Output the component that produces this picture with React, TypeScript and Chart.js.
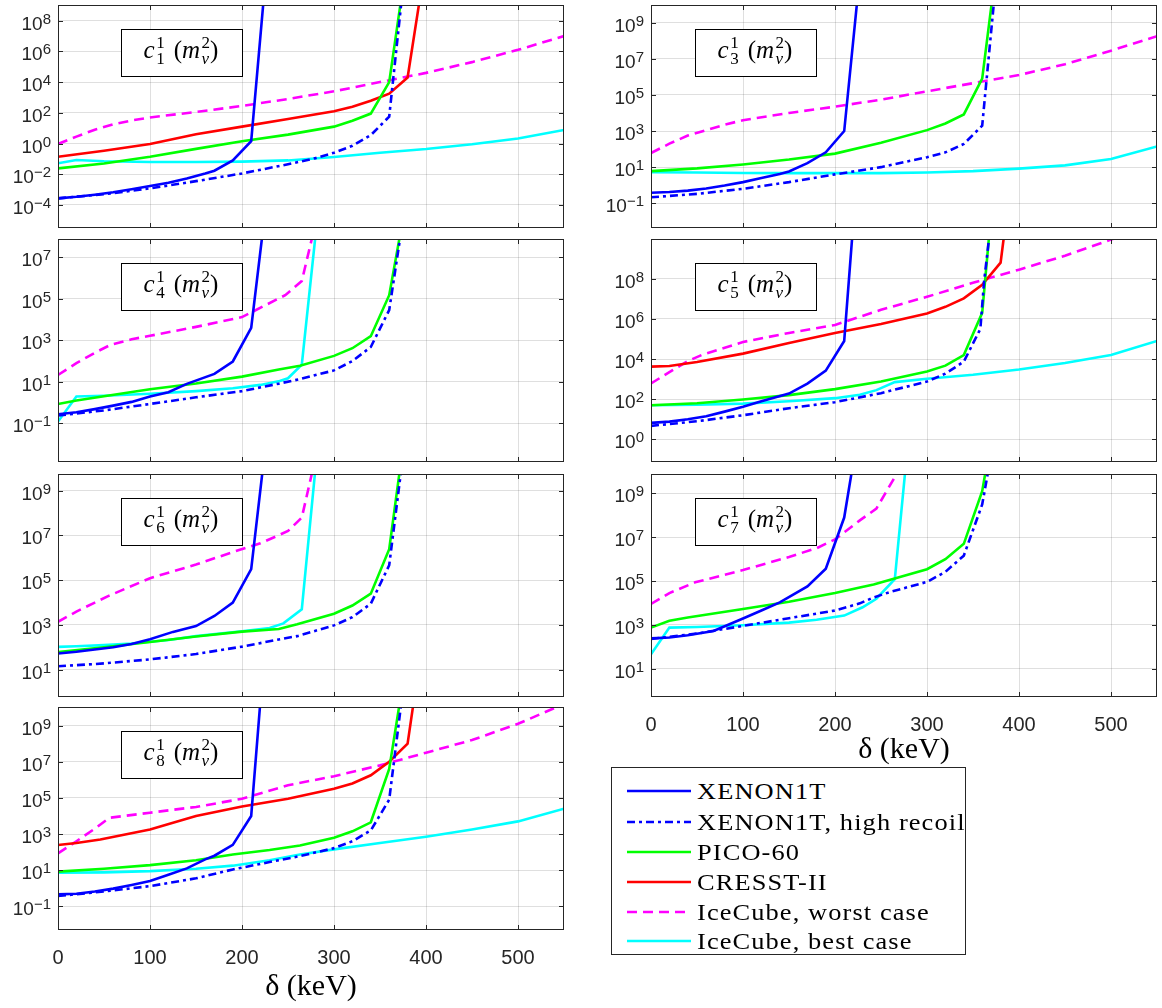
import React, { useEffect, useRef } from 'react';
import { Chart, registerables } from 'chart.js';

Chart.register(...registerables);

// ---------------- data: pairs of [delta (keV), log10 of the bound] ----------------
const X_TICKS = [0, 100, 200, 300, 400, 500];

const c1Xenon = [[0,-3.57],[20,-3.47],[40,-3.33],[60,-3.17],[80,-2.98],[100,-2.77],[120,-2.55],[140,-2.28],[160,-1.95],[170,-1.77],[190,-1.1],[210,0.15],[230,13.8]];
const c1High = [[0,-3.57],[50,-3.3],[100,-2.92],[150,-2.45],[200,-1.95],[250,-1.35],[280,-0.95],[300,-0.6],[320,-0.15],[340,0.55],[360,1.75],[380,13]];
const c1Pico = [[0,-1.62],[50,-1.3],[100,-0.86],[150,-0.35],[200,0.15],[250,0.58],[300,1.1],[320,1.48],[340,1.95],[360,4.0],[380,12.3]];
const c1Cresst = [[0,-0.86],[50,-0.47],[100,-0.03],[150,0.6],[200,1.1],[250,1.6],[300,2.1],[320,2.4],[340,2.78],[360,3.25],[380,4.3],[400,12]];
const c1Worst = [[0,-0.03],[20,0.45],[40,0.9],[60,1.25],[80,1.5],[100,1.7],[150,2.05],[200,2.45],[250,2.9],[300,3.4],[350,4.0],[400,4.6],[450,5.3],[500,6.1],[550,7.0]];
const c1Best = [[0,-1.29],[20,-1.07],[50,-1.15],[100,-1.2],[150,-1.2],[200,-1.18],[250,-1.1],[300,-0.88],[350,-0.6],[400,-0.36],[450,-0.05],[500,0.33],[550,0.88]];

const c3Xenon = [[0,-0.42],[20,-0.38],[40,-0.3],[60,-0.18],[80,-0.02],[100,0.17],[120,0.4],[140,0.62],[150,0.76],[170,1.22],[190,1.82],[210,3.0],[230,13.2]];
const c3High = [[0,-0.67],[50,-0.48],[100,-0.2],[150,0.17],[200,0.6],[250,1.0],[300,1.55],[320,1.82],[340,2.28],[360,3.3],[380,14]];
const c3Pico = [[0,0.78],[50,0.93],[100,1.15],[150,1.42],[200,1.75],[250,2.35],[300,3.05],[320,3.42],[340,3.92],[360,5.9],[380,14]];
const c3Worst = [[0,1.78],[20,2.3],[40,2.75],[60,3.05],[80,3.35],[100,3.6],[150,4.0],[200,4.35],[250,4.74],[300,5.2],[350,5.65],[400,6.1],[450,6.7],[500,7.45],[550,8.25]];
const c3Best = [[0,0.72],[50,0.7],[100,0.68],[150,0.67],[200,0.67],[250,0.67],[300,0.7],[350,0.78],[400,0.92],[450,1.1],[500,1.45],[550,2.15]];

const c4Xenon = [[0,-0.57],[20,-0.47],[40,-0.32],[60,-0.15],[80,0.03],[100,0.29],[120,0.5],[140,0.9],[170,1.38],[190,1.98],[210,3.6],[230,11]];
const c4High = [[0,-0.63],[50,-0.38],[100,-0.07],[150,0.25],[200,0.55],[240,0.91],[263,1.13],[300,1.55],[320,2.0],[340,2.68],[360,4.46],[380,10.3]];
const c4Pico = [[0,-0.07],[20,0.1],[50,0.3],[100,0.64],[150,0.92],[200,1.25],[240,1.59],[263,1.77],[300,2.25],[320,2.62],[340,3.2],[360,5.18],[380,10.1]];
const c4Worst = [[0,1.33],[20,1.9],[40,2.4],[57,2.78],[80,3.05],[100,3.22],[150,3.65],[200,4.12],[247,5.18],[265,5.86],[285,9.6]];
const c4Best = [[0,-0.92],[20,0.29],[50,0.33],[100,0.42],[150,0.55],[190,0.69],[220,0.85],[241,1.04],[250,1.17],[265,1.83],[285,10.2]];

const c5Xenon = [[0,0.82],[20,0.88],[40,1.0],[60,1.15],[80,1.38],[100,1.62],[120,1.9],[150,2.28],[170,2.78],[190,3.42],[210,4.9],[230,16.8]];
const c5High = [[0,0.67],[50,0.9],[100,1.2],[150,1.55],[200,1.85],[250,2.3],[300,2.88],[320,3.27],[340,3.87],[358,5.5],[362,7.85],[375,13]];
const c5Pico = [[0,1.7],[50,1.8],[100,1.98],[150,2.2],[200,2.5],[250,2.88],[300,3.38],[320,3.67],[340,4.2],[360,6.3],[380,16.5]];
const c5Cresst = [[0,3.62],[20,3.65],[50,3.85],[100,4.27],[150,4.8],[200,5.3],[250,5.75],[300,6.27],[320,6.6],[340,7.02],[360,7.7],[380,8.8],[400,16]];
const c5Worst = [[0,2.78],[20,3.35],[40,3.9],[55,4.2],[100,4.85],[150,5.3],[200,5.7],[250,6.45],[300,7.1],[350,7.8],[400,8.45],[450,9.15],[500,9.95],[550,10.7]];
const c5Best = [[0,1.7],[50,1.72],[100,1.78],[150,1.9],[200,2.05],[227,2.22],[245,2.45],[265,2.85],[300,3.02],[350,3.22],[400,3.48],[450,3.8],[500,4.2],[550,4.9]];

const c6Xenon = [[0,1.72],[20,1.8],[40,1.9],[60,2.0],[80,2.15],[100,2.36],[125,2.69],[150,2.95],[170,3.4],[190,4.0],[210,5.5],[230,12.6]];
const c6High = [[0,1.15],[50,1.28],[100,1.46],[150,1.7],[200,2.03],[240,2.35],[260,2.5],[300,2.98],[320,3.35],[340,3.95],[360,5.67],[380,12.2]];
const c6Pico = [[0,1.79],[50,2.0],[100,2.24],[150,2.48],[200,2.7],[240,2.82],[260,3.03],[300,3.5],[320,3.87],[340,4.4],[360,6.39],[380,12.5]];
const c6Worst = [[0,3.14],[20,3.6],[40,4.0],[55,4.3],[100,5.09],[150,5.7],[190,6.26],[220,6.65],[250,7.2],[265,7.8],[285,11.4]];
const c6Best = [[0,2.02],[20,2.05],[50,2.1],[80,2.17],[120,2.33],[150,2.5],[200,2.72],[230,2.86],[245,3.07],[265,3.7],[285,12.2]];

const c7Xenon = [[0,2.38],[20,2.42],[40,2.52],[68,2.72],[100,3.29],[120,3.65],[140,4.02],[170,4.75],[190,5.56],[210,7.9],[230,13]];
const c7High = [[0,2.35],[50,2.6],[100,2.95],[150,3.3],[200,3.65],[227,3.98],[242,4.25],[260,4.5],[300,4.96],[320,5.42],[340,6.16],[360,8.5],[375,12]];
const c7Pico = [[0,2.87],[20,3.18],[40,3.33],[100,3.72],[150,4.05],[200,4.45],[227,4.7],[242,4.84],[300,5.54],[320,6.0],[340,6.7],[360,9.1],[380,14]];
const c7Worst = [[0,3.95],[20,4.45],[48,4.94],[100,5.5],[150,6.1],[180,6.5],[200,6.9],[227,7.77],[245,8.31],[265,9.75],[280,10.9]];
const c7Best = [[0,1.65],[20,2.87],[50,2.9],[100,2.98],[150,3.1],[180,3.23],[210,3.42],[230,3.8],[245,4.19],[265,5.08],[285,13.8]];

const c8Xenon = [[0,-0.34],[20,-0.3],[40,-0.18],[60,-0.02],[80,0.18],[100,0.4],[120,0.75],[140,1.1],[160,1.6],[170,1.8],[190,2.4],[210,4.0],[230,16.7]];
const c8High = [[0,-0.43],[50,-0.18],[100,0.12],[150,0.55],[190,1.04],[230,1.45],[263,1.78],[300,2.22],[320,2.6],[340,3.2],[360,4.9],[375,11]];
const c8Pico = [[0,0.92],[50,1.08],[100,1.28],[150,1.55],[190,1.87],[230,2.12],[263,2.37],[300,2.8],[320,3.15],[340,3.65],[360,6.6],[380,13]];
const c8Cresst = [[0,2.39],[20,2.5],[46,2.7],[100,3.25],[150,4.0],[200,4.52],[250,4.95],[300,5.5],[320,5.8],[340,6.25],[360,7.0],[380,8.0],[400,15]];
const c8Worst = [[0,1.93],[20,2.6],[40,3.3],[56,3.9],[100,4.18],[150,4.5],[200,4.95],[250,5.7],[300,6.2],[350,6.8],[400,7.5],[450,8.2],[500,9.1],[550,10.2]];
const c8Best = [[0,0.86],[50,0.88],[100,0.95],[150,1.08],[190,1.25],[230,1.55],[263,1.87],[300,2.15],[350,2.5],[400,2.85],[450,3.25],[500,3.7],[550,4.4]];

// y ranges: [log10 min, log10 max]
const c1Range = [-5.5, 9.02];
const c3Range = [-2.37, 9.98];
const c4Range = [-2.87, 7.89];
const c5Range = [-1.13, 9.98];
const c6Range = [-0.21, 9.75];
const c7Range = [-0.3, 9.89];
const c8Range = [-2.31, 10.03];

const LEGEND_LABELS = ['XENON1T', 'XENON1T, high recoil', 'PICO-60', 'CRESST-II', 'IceCube, worst case', 'IceCube, best case'];

// ---------------- styles ----------------
const SERIES_STYLE = [
  { color: '#0000ff', dash: [] as number[] },
  { color: '#0000ff', dash: [8, 4, 3, 4] },
  { color: '#00ff00', dash: [] as number[] },
  { color: '#ff0000', dash: [] as number[] },
  { color: '#ff00ff', dash: [10, 6] },
  { color: '#00ffff', dash: [] as number[] },
];

const COL_X = [58, 651];
const ROWS = [[5, 228], [239, 462], [474, 697], [707, 930]];
const AREA_W = 506;

type PanelDef = {
  idx: string; col: number; row: number; range: number[]; oddLabels: boolean; xLabels: boolean;
  series: (number[][] | null)[];
};

const PANELS: PanelDef[] = [
  { idx: '1', col: 0, row: 0, range: c1Range, oddLabels: false, xLabels: false, series: [c1Xenon, c1High, c1Pico, c1Cresst, c1Worst, c1Best] },
  { idx: '3', col: 1, row: 0, range: c3Range, oddLabels: true, xLabels: false, series: [c3Xenon, c3High, c3Pico, null, c3Worst, c3Best] },
  { idx: '4', col: 0, row: 1, range: c4Range, oddLabels: true, xLabels: false, series: [c4Xenon, c4High, c4Pico, null, c4Worst, c4Best] },
  { idx: '5', col: 1, row: 1, range: c5Range, oddLabels: false, xLabels: false, series: [c5Xenon, c5High, c5Pico, c5Cresst, c5Worst, c5Best] },
  { idx: '6', col: 0, row: 2, range: c6Range, oddLabels: true, xLabels: false, series: [c6Xenon, c6High, c6Pico, null, c6Worst, c6Best] },
  { idx: '7', col: 1, row: 2, range: c7Range, oddLabels: true, xLabels: true, series: [c7Xenon, c7High, c7Pico, null, c7Worst, c7Best] },
  { idx: '8', col: 0, row: 3, range: c8Range, oddLabels: true, xLabels: true, series: [c8Xenon, c8High, c8Pico, c8Cresst, c8Worst, c8Best] },
];

const AXIS_COLOR = '#262626';
const SANS = '"Liberation Sans", Arial, Helvetica, sans-serif';
const SERIF = '"Liberation Serif", "DejaVu Serif", serif';

function buildYTicks(lo: number, hi: number, odd: boolean) {
  const min = Math.pow(10, lo), max = Math.pow(10, hi);
  const out: any[] = [];
  for (let e = Math.floor(lo); e <= Math.ceil(hi); e++) {
    for (let m = 1; m <= 9; m++) {
      const v = m * Math.pow(10, e);
      if (v < min * 0.9999 || v > max * 1.0001) continue;
      const lab = m === 1 && Math.abs(e % 2) === (odd ? 1 : 0);
      out.push({ value: v, lab, exp: e });
    }
  }
  return out;
}

function drawPanelLabel(ctx: CanvasRenderingContext2D, cx: number, baseline: number, idx: string) {
  const big = 25, small = 17;
  const F = (it: boolean, s: number) => `${it ? 'italic ' : ''}${s}px ${SERIF}`;
  type Piece = { t: string; f: string; dy: number };
  const groups: { items: Piece[]; gap?: number }[] = [
    { items: [{ t: 'c', f: F(true, big), dy: 0 }] },
    { items: [{ t: '1', f: F(false, small), dy: -10 }, { t: idx, f: F(false, small), dy: 6 }] },
    { items: [], gap: 9 },
    { items: [{ t: '(', f: F(false, big), dy: 0 }] },
    { items: [{ t: 'm', f: F(true, big), dy: 0 }] },
    { items: [{ t: '2', f: F(false, small), dy: -10 }, { t: 'v', f: F(true, small), dy: 6 }] },
    { items: [{ t: ')', f: F(false, big), dy: 0 }] },
  ];
  const widths = groups.map((g) => {
    if (g.gap) return g.gap;
    let w = 0;
    for (const it of g.items) { ctx.font = it.f; w = Math.max(w, ctx.measureText(it.t).width); }
    return w + (g.items.length > 1 ? 1.5 : 0);
  });
  const total = widths.reduce((a, b) => a + b, 0);
  let x = cx - total / 2;
  ctx.fillStyle = '#000';
  ctx.textBaseline = 'alphabetic';
  ctx.textAlign = 'left';
  groups.forEach((g, i) => {
    for (const it of g.items) { ctx.font = it.f; ctx.fillText(it.t, x + (g.items.length > 1 ? 1.5 : 0), baseline + it.dy); }
    x += widths[i];
  });
}

const decoPlugin = {
  id: 'deco',
  beforeDatasetsDraw(chart: any) {
    const { ctx, chartArea: a } = chart;
    const ys = chart.scales.y;
    ctx.save();
    ctx.strokeStyle = 'rgba(0,0,0,0.26)';
    ctx.lineWidth = 1;
    ctx.setLineDash([1, 2]);
    for (const t of ys.ticks) {
      if (t.lab) continue;
      const y = Math.round(ys.getPixelForValue(t.value)) + 0.5;
      ctx.beginPath();
      ctx.moveTo(a.left, y);
      ctx.lineTo(a.right, y);
      ctx.stroke();
    }
    ctx.restore();
  },
  afterDatasetsDraw(chart: any, _args: any, opts: any) {
    const { ctx, chartArea: a } = chart;
    const ys = chart.scales.y, xs = chart.scales.x;
    ctx.save();
    ctx.strokeStyle = AXIS_COLOR;
    ctx.lineWidth = 1;
    ctx.setLineDash([]);
    ctx.beginPath();
    for (const t of ys.ticks) {
      const y = Math.round(ys.getPixelForValue(t.value)) + 0.5;
      const len = t.lab ? 5 : 3;
      ctx.moveTo(a.left, y); ctx.lineTo(a.left + len, y);
      ctx.moveTo(a.right, y); ctx.lineTo(a.right - len, y);
    }
    for (const t of xs.ticks) {
      const x = Math.round(xs.getPixelForValue(t.value)) + 0.5;
      ctx.moveTo(x, a.top); ctx.lineTo(x, a.top + 5);
      ctx.moveTo(x, a.bottom); ctx.lineTo(x, a.bottom - 5);
    }
    ctx.stroke();
    ctx.strokeRect(a.left + 0.5, a.top + 0.5, a.right - a.left - 1, a.bottom - a.top - 1);

    // y tick labels: 10 with raised exponent
    ctx.fillStyle = AXIS_COLOR;
    ctx.textBaseline = 'alphabetic';
    ctx.textAlign = 'left';
    for (const t of ys.ticks) {
      if (!t.lab) continue;
      const y = ys.getPixelForValue(t.value);
      const ex = String(t.exp).replace('-', '\u2212');
      ctx.font = `15px ${SANS}`;
      const we = ctx.measureText(ex).width;
      ctx.font = `19px ${SANS}`;
      const wb = ctx.measureText('10').width;
      const right = a.left - 7;
      ctx.fillText('10', right - we - wb, y + 9);
      ctx.font = `15px ${SANS}`;
      ctx.fillText(ex, right - we, y + 3);
    }

    // label box
    const bx = a.left + opts.boxX, by = a.top + 24, bw = 122, bh = 48;
    ctx.fillStyle = '#ffffff';
    ctx.fillRect(bx, by, bw, bh);
    ctx.strokeStyle = '#000';
    ctx.strokeRect(bx + 0.5, by + 0.5, bw - 1, bh - 1);
    drawPanelLabel(ctx, bx + bw / 2 - 1, by + 29, opts.idx);
    ctx.restore();
  },
};

function Panel({ p }: { p: PanelDef }) {
  const ref = useRef<HTMLCanvasElement>(null);
  const left = COL_X[p.col];
  const [top, bottom] = ROWS[p.row];
  const xh = p.xLabels ? (p.row === 3 ? 75 : 71) : 4;
  const W = 58 + AREA_W + 5;
  const H = 5 + (bottom - top) + xh;
  useEffect(() => {
    const yTicks = buildYTicks(p.range[0], p.range[1], p.oddLabels);
    const datasets: any[] = [];
    p.series.forEach((s, i) => {
      if (!s) return;
      const st = SERIES_STYLE[i];
      datasets.push({
        data: s.map(([d, l]) => ({ x: d, y: Math.pow(10, l) })),
        borderColor: st.color,
        backgroundColor: st.color,
        borderWidth: 2.6,
        borderDash: st.dash,
        pointRadius: 0,
        tension: 0,
        fill: false,
        clip: 0,
      });
    });
    const chart = new Chart(ref.current as HTMLCanvasElement, {
      type: 'line',
      data: { datasets },
      plugins: [decoPlugin as any],
      options: {
        responsive: false,
        animation: false,
        events: [],
        layout: { padding: { left: 0, top: 5, right: 5, bottom: 0 } },
        plugins: {
          legend: { display: false },
          tooltip: { enabled: false },
          deco: { boxX: p.col === 0 ? 63 : 44, idx: p.idx },
        } as any,
        scales: {
          x: {
            type: 'linear',
            min: 0,
            max: 550,
            afterBuildTicks: (s: any) => { s.ticks = X_TICKS.map((v) => ({ value: v })); },
            afterFit: (s: any) => { s.height = xh; s.paddingLeft = 0; s.paddingRight = 0; },
            grid: { color: 'rgba(38,38,38,0.15)', lineWidth: 1, drawTicks: false },
            border: { display: false },
            ticks: {
              display: p.xLabels,
              padding: 16,
              maxRotation: 0,
              autoSkip: false,
              color: AXIS_COLOR,
              font: { family: SANS, size: 20 },
            },
            title: {
              display: p.xLabels,
              text: '\u03B4 (keV)',
              color: '#000',
              font: { family: SERIF, size: 30 },
              padding: { top: 0, bottom: 0 },
            },
          },
          y: {
            type: 'logarithmic',
            min: Math.pow(10, p.range[0]),
            max: Math.pow(10, p.range[1]),
            afterBuildTicks: (s: any) => { s.ticks = yTicks.map((t) => ({ ...t })); },
            afterFit: (s: any) => { s.width = 58; s.paddingTop = 0; s.paddingBottom = 0; },
            grid: { color: 'rgba(38,38,38,0.15)', lineWidth: 1, drawTicks: false },
            border: { display: false },
            ticks: {
              display: false,
              autoSkip: false,
              callback: (_v: any, i: number, ticks: any[]) => {
                const t = ticks[i];
                return t && t.lab ? '10^' + t.exp : null;
              },
            },
          },
        } as any,
      },
    });
    return () => chart.destroy();
  }, []);
  return (
    <canvas
      ref={ref}
      width={W}
      height={H}
      style={{ position: 'absolute', left: left - 58, top: top - 5, width: W, height: H }}
    />
  );
}

function LegendBox() {
  const rowTop = [23, 54, 84, 114, 144, 173];
  return (
    <div
      style={{
        position: 'absolute', left: 611, top: 767, width: 355, height: 188,
        border: '1px solid #262626', background: '#fff', boxSizing: 'border-box',
      }}
    >
      {LEGEND_LABELS.map((lab, i) => {
        const st = SERIES_STYLE[i];
        return (
          <div key={lab} style={{ position: 'absolute', left: 0, top: rowTop[i] - 15, height: 30, width: 350 }}>
            <svg width={70} height={30} style={{ position: 'absolute', left: 14, top: 0 }}>
              <line x1={1} y1={15} x2={65} y2={15} stroke={st.color} strokeWidth={2.6}
                strokeDasharray={st.dash.length ? st.dash.join(',') : undefined} />
            </svg>
            <span
              style={{
                position: 'absolute', left: 85, top: 0, lineHeight: '30px', whiteSpace: 'nowrap',
                fontFamily: SERIF, fontSize: 24, color: '#000', letterSpacing: '1px',
                transform: 'scaleX(1.1)', transformOrigin: 'left center', display: 'inline-block',
              }}
            >
              {lab}
            </span>
          </div>
        );
      })}
    </div>
  );
}

export default function App() {
  return (
    <div style={{ position: 'absolute', left: 0, top: 0, width: 1162, height: 1008, overflow: 'hidden', background: '#fff' }}>
      {PANELS.map((p) => <Panel key={p.idx} p={p} />)}
      <LegendBox />
    </div>
  );
}
